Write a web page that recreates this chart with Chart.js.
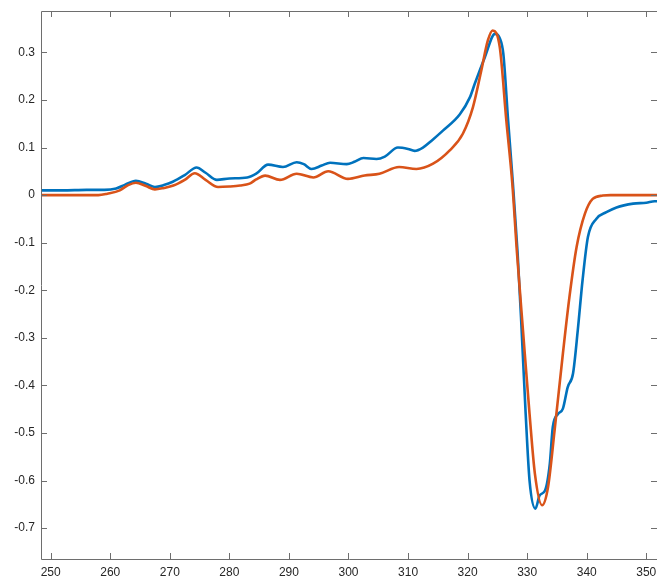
<!DOCTYPE html>
<html lang="en">
<head>
    <meta charset="UTF-8">
    <title>Spectrum fit</title>
    <script src="https://cdn.jsdelivr.net/npm/chart.js"></script>
    <style>
        body { margin: 0; background: #ffffff; overflow: hidden; }
        #wrap { width: 657px; height: 576px; position: relative; }
    </style>
</head>
<body>
    <div id="wrap"><canvas id="specChart"></canvas></div>
    <script>
        // Measured spectrum (blue)
        const blueX = [248.4, 252, 256, 259, 261, 262.5, 264.3, 266, 267.5, 269, 270.5, 272.5, 274.5, 276, 277.9,
            280, 283, 284.5, 286.5, 289, 291.3, 292.5, 293.8, 295.5, 296.9, 299.7, 301, 302.5, 304.7, 306.1,
            308.3, 310, 311.1, 312.5, 314, 315.9, 318.7, 320.4, 321.2, 322.9, 324.6, 325.4, 326.0, 326.8,
            327.6, 328.4, 329.0, 329.75, 330.4, 331.4, 332.1, 333.0, 333.8, 334.3, 335.2, 336.0, 336.8, 337.7,
            338.5, 339.3, 340.2, 341.6, 343.3, 345.0, 347.8, 350, 351.4, 352];
        const blueY = [0.010, 0.010, 0.011, 0.011, 0.014, 0.022, 0.030, 0.024, 0.017, 0.021, 0.028, 0.042, 0.058, 0.047, 0.032,
            0.035, 0.037, 0.045, 0.064, 0.059, 0.069, 0.065, 0.055, 0.062, 0.068, 0.065, 0.070, 0.078, 0.076, 0.081,
            0.100, 0.097, 0.093, 0.100, 0.115, 0.136, 0.170, 0.206, 0.234, 0.290, 0.339, 0.330, 0.297, 0.157,
            0.025, -0.123, -0.265, -0.460, -0.600, -0.659, -0.631, -0.621, -0.565, -0.488, -0.460, -0.449, -0.404, -0.375,
            -0.284, -0.179, -0.088, -0.050, -0.036, -0.026, -0.018, -0.016, -0.013, -0.013];

        // Simulated spectrum (orange)
        const orangeX = [248.4, 258, 259.5, 261.6, 263, 264.3, 266, 267.5, 269, 270.6, 272.5, 274.2, 276, 278.1,
            280, 281.8, 283.4, 284.5, 286.0, 288.5, 291.3, 294.1, 296.6, 299.9, 302.7, 305.2, 308.5, 311.4,
            314.2, 317.0, 319.2, 320.9, 322.3, 323.4, 324.2, 325.4, 326.5, 327.5, 328.3, 329.3, 330.4, 331.3,
            332.5, 333.5, 334.6, 336.0, 337.1, 338.3, 339.7, 341.0, 342.7, 344, 352];
        const orangeY = [0, 0, 0.003, 0.010, 0.021, 0.026, 0.019, 0.012, 0.015, 0.020, 0.032, 0.046, 0.032, 0.017,
            0.018, 0.020, 0.024, 0.033, 0.041, 0.032, 0.045, 0.037, 0.050, 0.034, 0.041, 0.045, 0.059, 0.055,
            0.066, 0.094, 0.129, 0.185, 0.262, 0.325, 0.346, 0.311, 0.157, 0.025, -0.123, -0.285, -0.460, -0.586,
            -0.652, -0.614, -0.495, -0.333, -0.214, -0.109, -0.039, -0.008, -0.001, 0, 0];

        const xTicks = [250, 260, 270, 280, 290, 300, 310, 320, 330, 340, 350];
        const yTicks = [-0.7, -0.6, -0.5, -0.4, -0.3, -0.2, -0.1, 0, 0.1, 0.2, 0.3];

        const toPoints = (xs, ys) => xs.map((x, i) => ({ x: x, y: ys[i] }));

        // box and inward tick marks, matlab style
        const boxPlugin = {
            id: 'boxTicks',
            afterDraw(chart) {
                const { ctx, chartArea: a, scales } = chart;
                ctx.save();
                ctx.strokeStyle = '#6e6e6e';
                ctx.lineWidth = 1;
                ctx.beginPath();
                ctx.moveTo(a.left + 0.5, a.bottom + 0.5);
                ctx.lineTo(a.left + 0.5, a.top + 0.5);
                ctx.lineTo(a.right + 0.5, a.top + 0.5);
                ctx.lineTo(a.right + 0.5, a.bottom + 0.5);
                ctx.lineTo(a.left + 0.5, a.bottom + 0.5);
                xTicks.forEach(v => {
                    const px = Math.round(scales.x.getPixelForValue(v)) + 0.5;
                    ctx.moveTo(px, a.bottom); ctx.lineTo(px, a.bottom - 6);
                    ctx.moveTo(px, a.top); ctx.lineTo(px, a.top + 6);
                });
                yTicks.forEach(v => {
                    const py = Math.round(scales.y.getPixelForValue(v)) + 0.5;
                    ctx.moveTo(a.left, py); ctx.lineTo(a.left + 6, py);
                    ctx.moveTo(a.right, py); ctx.lineTo(a.right - 6, py);
                });
                ctx.stroke();
                ctx.restore();
            }
        };

        const ctx = document.getElementById('specChart').getContext('2d');
        const chart = new Chart(ctx, {
            type: 'line',
            data: {
                datasets: [
                    {
                        label: 'Experiment',
                        data: toPoints(blueX, blueY),
                        borderColor: '#0072BD',
                        borderWidth: 2.6,
                        pointRadius: 0,
                        cubicInterpolationMode: 'monotone',
                        fill: false,
                        order: 2
                    },
                    {
                        label: 'Simulation',
                        data: toPoints(orangeX, orangeY),
                        borderColor: '#D95319',
                        borderWidth: 2.6,
                        pointRadius: 0,
                        cubicInterpolationMode: 'monotone',
                        fill: false,
                        order: 1
                    }
                ]
            },
            options: {
                responsive: true,
                maintainAspectRatio: false,
                animation: false,
                layout: { padding: { top: 11, right: 0, left: 0, bottom: 0 } },
                plugins: {
                    legend: { display: false },
                    tooltip: { enabled: false }
                },
                scales: {
                    x: {
                        type: 'linear',
                        min: 248.37,
                        max: 351.8,
                        grid: { display: false, drawTicks: false },
                        border: { display: false },
                        afterFit: s => { s.height = 17; s.paddingLeft = 0; s.paddingRight = 0; },
                        afterBuildTicks: s => { s.ticks = xTicks.map(v => ({ value: v })); },
                        ticks: {
                            padding: 6,
                            color: '#262626',
                            font: { family: 'Liberation Sans, Arial, sans-serif', size: 12 },
                            maxRotation: 0,
                            callback: v => String(v)
                        }
                    },
                    y: {
                        type: 'linear',
                        min: -0.765,
                        max: 0.387,
                        grid: { display: false, drawTicks: false },
                        border: { display: false },
                        afterFit: s => { s.width = 41; s.paddingTop = 0; s.paddingBottom = 0; },
                        afterBuildTicks: s => { s.ticks = yTicks.map(v => ({ value: v })); },
                        ticks: {
                            padding: 6,
                            color: '#262626',
                            font: { family: 'Liberation Sans, Arial, sans-serif', size: 12 },
                            callback: v => String(v)
                        }
                    }
                }
            },
            plugins: [boxPlugin]
        });
    </script>
</body>
</html>
